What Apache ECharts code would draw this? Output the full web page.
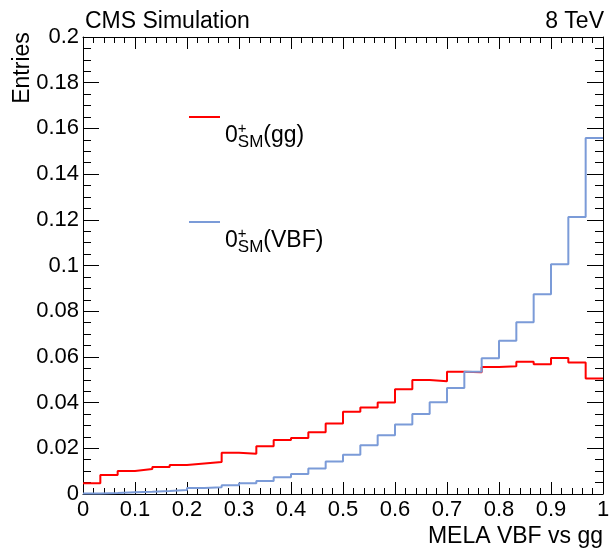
<!DOCTYPE html>
<html>
<head>
<meta charset="utf-8">
<script src="https://cdn.jsdelivr.net/npm/echarts@6/dist/echarts.min.js"></script>
<style>
  html, body { margin: 0; padding: 0; background: #fff; }
  #main { width: 609px; height: 553px; }
</style>
</head>
<body>
<div id="main"></div>
<script>
// histogram: 30 bins on [0, 1]
const nBins = 30;
const xMin = 0;
const xMax = 1;
const binWidth = (xMax - xMin) / nBins;

// 0+SM (gg), per-bin content
const ggValues = [
  0.0047, 0.0083, 0.0101, 0.0109, 0.0118, 0.0127, 0.0134, 0.0140, 0.0181, 0.0176,
  0.0209, 0.0236, 0.0245, 0.0270, 0.0309, 0.0360, 0.0379, 0.0400, 0.0458, 0.0499,
  0.0493, 0.0535, 0.0533, 0.0556, 0.0559, 0.0579, 0.0568, 0.0595, 0.0575, 0.0505
];

// 0+SM (VBF), per-bin content
const vbfValues = [
  0.0002, 0.0004, 0.0008, 0.0010, 0.0013, 0.0017, 0.0026, 0.0029, 0.0038, 0.0047,
  0.0057, 0.0073, 0.0088, 0.0112, 0.0142, 0.0172, 0.0213, 0.0257, 0.0304, 0.0350,
  0.0401, 0.0464, 0.0535, 0.0594, 0.0671, 0.0752, 0.0874, 0.1006, 0.1212, 0.1558
];

const seriesNames = ['gg', 'VBF'];
const font = 'Liberation Sans, Arial, Helvetica, sans-serif';

// step line points: left edge of every bin + closing right edge
function toSteps(values) {
  const pts = values.map((v, i) => [xMin + i * binWidth, v]);
  pts.push([xMax, values[values.length - 1]]);
  return pts;
}

const chart = echarts.init(document.getElementById('main'));

const tickStyle = { color: '#000', width: 1 };

function xAxisCfg(pos, withLabels) {
  return {
    type: 'value',
    position: pos,
    min: xMin,
    max: xMax,
    interval: 0.1,
    axisLine: { show: true, onZero: false, lineStyle: tickStyle },
    axisTick: { show: true, inside: true, length: 12, lineStyle: tickStyle },
    minorTick: { show: true, splitNumber: 5, length: 6, lineStyle: tickStyle },
    splitLine: { show: false },
    axisLabel: { show: withLabels, margin: 5, color: '#000', fontSize: 22, fontFamily: font },
    name: withLabels ? 'MELA VBF vs gg' : '',
    nameLocation: 'end',
    nameGap: 0,
    nameMoveOverlap: false,
    nameTextStyle: {
      color: '#000', fontSize: 23, fontFamily: font,
      align: 'right', verticalAlign: 'top', padding: [31, 0, 0, 0]
    }
  };
}

function yAxisCfg(pos, withLabels) {
  return {
    type: 'value',
    position: pos,
    min: 0,
    max: 0.2,
    interval: 0.02,
    axisLine: { show: true, onZero: false, lineStyle: tickStyle },
    axisTick: { show: true, inside: true, length: 16, lineStyle: tickStyle },
    minorTick: { show: true, splitNumber: 4, length: 8, lineStyle: tickStyle },
    splitLine: { show: false },
    axisLabel: { show: withLabels, margin: 4, color: '#000', fontSize: 22, fontFamily: font },
    name: withLabels ? 'Entries' : '',
    nameLocation: 'end',
    nameGap: -31,
    nameRotate: 90,
    nameMoveOverlap: false,
    nameTextStyle: {
      color: '#000', fontSize: 23, fontFamily: font,
      align: 'center', verticalAlign: 'bottom', padding: [0, 0, 49, 0]
    }
  };
}

const legendRich = {
  z: { fontSize: 23, lineHeight: 30, fontFamily: font, color: '#000', verticalAlign: 'middle' },
  p: { fontSize: 15, fontFamily: font, color: '#000', verticalAlign: 'top', width: 0 },
  s: { fontSize: 17, fontFamily: font, color: '#000', verticalAlign: 'bottom' },
  n: { fontSize: 23, lineHeight: 30, fontFamily: font, color: '#000', verticalAlign: 'middle' }
};

chart.setOption({
  animation: false,
  backgroundColor: '#fff',
  title: [
    { text: 'CMS Simulation', left: 80, top: 5,
      textStyle: { fontSize: 23, fontWeight: 'normal', color: '#000', fontFamily: font } },
    { text: '8 TeV', right: 0, top: 5,
      textStyle: { fontSize: 23, fontWeight: 'normal', color: '#000', fontFamily: font } }
  ],
  grid: { left: 83, right: 6, top: 37, bottom: 59, outerBoundsMode: 'none' },
  legend: {
    orient: 'vertical',
    left: 189,
    top: 116,
    padding: 0,
    itemGap: 70,
    itemWidth: 31,
    itemHeight: 2,
    icon: 'rect',
    selectedMode: false,
    data: seriesNames,
    formatter: function (name) {
      return '{z|0}{p|+}{s|SM}{n|(' + name + ')}';
    },
    textStyle: { padding: [38, 0, 0, 0], rich: legendRich }
  },
  xAxis: [xAxisCfg('bottom', true), xAxisCfg('top', false)],
  yAxis: [yAxisCfg('left', true), yAxisCfg('right', false)],
  series: [
    {
      name: seriesNames[0],
      type: 'line',
      step: 'end',
      data: toSteps(ggValues),
      showSymbol: false,
      color: '#ff0000',
      lineStyle: { color: '#ff0000', width: 2 }
    },
    {
      name: seriesNames[1],
      type: 'line',
      step: 'end',
      data: toSteps(vbfValues),
      showSymbol: false,
      color: '#7b9bd8',
      lineStyle: { color: '#7b9bd8', width: 2 }
    }
  ]
});
</script>
</body>
</html>
